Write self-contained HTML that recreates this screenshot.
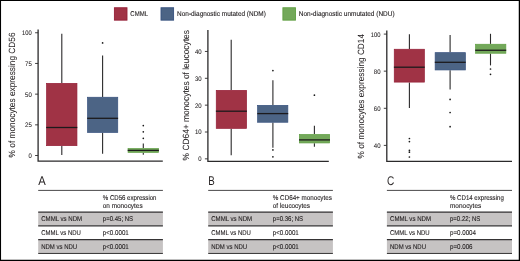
<!DOCTYPE html>
<html lang="en"><head><meta charset="utf-8"><title>Monocyte subsets in CMML, NDM and NDU</title>
<style>html,body{margin:0;padding:0;background:#fff}svg{display:block}text{font-family:"Liberation Sans",sans-serif;text-rendering:geometricPrecision;stroke:#231f20;stroke-width:0.12px}</style>
</head><body>
<svg width="520" height="261" viewBox="0 0 520 261">
<rect x="0" y="0" width="520" height="261" fill="#fff"/>
<rect x="114.4" y="7.75" width="12.6" height="12.4" fill="#a03345" stroke="#951f37" stroke-width="0.9"/>
<text x="130.3" y="16.1" font-size="7.0" textLength="17.7" lengthAdjust="spacingAndGlyphs" fill="#231f20">CMML</text>
<rect x="161.0" y="7.75" width="12.6" height="12.4" fill="#4c6485" stroke="#36507e" stroke-width="0.9"/>
<text x="177.1" y="16.1" font-size="7.0" textLength="88.7" lengthAdjust="spacingAndGlyphs" fill="#231f20">Non-diagnostic mutated (NDM)</text>
<rect x="282.9" y="7.75" width="12.6" height="12.4" fill="#73a85a" stroke="#5f9f42" stroke-width="0.9"/>
<text x="298.8" y="16.1" font-size="7.0" textLength="95.8" lengthAdjust="spacingAndGlyphs" fill="#231f20">Non-diagnostic unmutated (NDU)</text>
<path d="M38.1 29.6V161.2H162.8" fill="none" stroke="#2b2a2b" stroke-width="1.3"/>
<line x1="35.1" y1="32.75" x2="38.1" y2="32.75" stroke="#2b2a2b" stroke-width="0.9"/>
<text x="31.8" y="35.15" font-size="6.6" textLength="9.7" lengthAdjust="spacingAndGlyphs" text-anchor="end" fill="#231f20" style="stroke-width:0.08px">100</text>
<line x1="35.1" y1="63.45" x2="38.1" y2="63.45" stroke="#2b2a2b" stroke-width="0.9"/>
<text x="31.8" y="65.85" font-size="6.6" textLength="6.7" lengthAdjust="spacingAndGlyphs" text-anchor="end" fill="#231f20" style="stroke-width:0.08px">75</text>
<line x1="35.1" y1="94.15" x2="38.1" y2="94.15" stroke="#2b2a2b" stroke-width="0.9"/>
<text x="31.8" y="96.55" font-size="6.6" textLength="6.7" lengthAdjust="spacingAndGlyphs" text-anchor="end" fill="#231f20" style="stroke-width:0.08px">50</text>
<line x1="35.1" y1="124.85" x2="38.1" y2="124.85" stroke="#2b2a2b" stroke-width="0.9"/>
<text x="31.8" y="127.25" font-size="6.6" textLength="6.7" lengthAdjust="spacingAndGlyphs" text-anchor="end" fill="#231f20" style="stroke-width:0.08px">25</text>
<line x1="35.1" y1="155.5" x2="38.1" y2="155.5" stroke="#2b2a2b" stroke-width="0.9"/>
<text x="31.8" y="157.9" font-size="6.6" textLength="3.3" lengthAdjust="spacingAndGlyphs" text-anchor="end" fill="#231f20" style="stroke-width:0.08px">0</text>
<line x1="61.8" y1="33.8" x2="61.8" y2="83.0" stroke="#2b2a2b" stroke-width="1.1"/>
<line x1="61.8" y1="146.0" x2="61.8" y2="155.0" stroke="#2b2a2b" stroke-width="1.1"/>
<rect x="46.55" y="83.35" width="30.4" height="62.3" fill="#a03345" stroke="#951f37" stroke-width="0.7"/>
<line x1="46.2" y1="127.5" x2="77.3" y2="127.5" stroke="#1c1a1c" stroke-width="1.3"/>
<line x1="102.6" y1="55.6" x2="102.6" y2="96.9" stroke="#2b2a2b" stroke-width="1.1"/>
<line x1="102.6" y1="132.8" x2="102.6" y2="153.8" stroke="#2b2a2b" stroke-width="1.1"/>
<rect x="87.55" y="97.25" width="30.2" height="35.2" fill="#4c6485" stroke="#36507e" stroke-width="0.7"/>
<line x1="87.2" y1="118.3" x2="118.1" y2="118.3" stroke="#1c1a1c" stroke-width="1.3"/>
<circle cx="102.6" cy="42.9" r="0.85" fill="#1a1a1a"/>
<line x1="143.3" y1="143.4" x2="143.3" y2="148.2" stroke="#2b2a2b" stroke-width="1.1"/>
<line x1="143.3" y1="152.7" x2="143.3" y2="154.8" stroke="#2b2a2b" stroke-width="1.1"/>
<rect x="128.05" y="148.55" width="30.5" height="3.8" fill="#73a85a" stroke="#5f9f42" stroke-width="0.7"/>
<line x1="127.7" y1="150.4" x2="158.9" y2="150.4" stroke="#1c1a1c" stroke-width="1.3"/>
<circle cx="143.3" cy="125.6" r="0.85" fill="#1a1a1a"/>
<circle cx="143.3" cy="131.8" r="0.85" fill="#1a1a1a"/>
<circle cx="143.3" cy="138.3" r="0.85" fill="#1a1a1a"/>
<text x="15.5" y="157.4" font-size="9.0" textLength="124.9" lengthAdjust="spacingAndGlyphs" transform="rotate(-90 15.5 157.4)" fill="#231f20" style="stroke-width:0.06px">% of monocytes expressing CD56</text>
<path d="M207.9 30.0V161.3H328.8" fill="none" stroke="#2b2a2b" stroke-width="1.3"/>
<line x1="204.9" y1="51.45" x2="207.9" y2="51.45" stroke="#2b2a2b" stroke-width="0.9"/>
<text x="201.6" y="53.85" font-size="6.6" textLength="6.7" lengthAdjust="spacingAndGlyphs" text-anchor="end" fill="#231f20" style="stroke-width:0.08px">40</text>
<line x1="204.9" y1="78.3" x2="207.9" y2="78.3" stroke="#2b2a2b" stroke-width="0.9"/>
<text x="201.6" y="80.7" font-size="6.6" textLength="6.7" lengthAdjust="spacingAndGlyphs" text-anchor="end" fill="#231f20" style="stroke-width:0.08px">30</text>
<line x1="204.9" y1="105.15" x2="207.9" y2="105.15" stroke="#2b2a2b" stroke-width="0.9"/>
<text x="201.6" y="107.55" font-size="6.6" textLength="6.7" lengthAdjust="spacingAndGlyphs" text-anchor="end" fill="#231f20" style="stroke-width:0.08px">20</text>
<line x1="204.9" y1="132.0" x2="207.9" y2="132.0" stroke="#2b2a2b" stroke-width="0.9"/>
<text x="201.6" y="134.4" font-size="6.6" textLength="6.7" lengthAdjust="spacingAndGlyphs" text-anchor="end" fill="#231f20" style="stroke-width:0.08px">10</text>
<line x1="204.9" y1="158.85" x2="207.9" y2="158.85" stroke="#2b2a2b" stroke-width="0.9"/>
<text x="201.6" y="161.25" font-size="6.6" textLength="3.3" lengthAdjust="spacingAndGlyphs" text-anchor="end" fill="#231f20" style="stroke-width:0.08px">0</text>
<line x1="231.2" y1="39.7" x2="231.2" y2="90.0" stroke="#2b2a2b" stroke-width="1.1"/>
<line x1="231.2" y1="128.7" x2="231.2" y2="155.2" stroke="#2b2a2b" stroke-width="1.1"/>
<rect x="216.25" y="90.35" width="30.3" height="38.0" fill="#a03345" stroke="#951f37" stroke-width="0.7"/>
<line x1="215.9" y1="111.2" x2="246.9" y2="111.2" stroke="#1c1a1c" stroke-width="1.3"/>
<line x1="272.9" y1="80.2" x2="272.9" y2="105.0" stroke="#2b2a2b" stroke-width="1.1"/>
<line x1="272.9" y1="122.6" x2="272.9" y2="147.7" stroke="#2b2a2b" stroke-width="1.1"/>
<rect x="257.65" y="105.35" width="30.2" height="16.9" fill="#4c6485" stroke="#36507e" stroke-width="0.7"/>
<line x1="257.3" y1="113.6" x2="288.2" y2="113.6" stroke="#1c1a1c" stroke-width="1.3"/>
<circle cx="272.9" cy="70.6" r="0.85" fill="#1a1a1a"/>
<circle cx="272.9" cy="149.9" r="0.85" fill="#1a1a1a"/>
<circle cx="272.9" cy="156.8" r="0.85" fill="#1a1a1a"/>
<line x1="314.4" y1="125.7" x2="314.4" y2="134.1" stroke="#2b2a2b" stroke-width="1.1"/>
<line x1="314.4" y1="143.3" x2="314.4" y2="146.8" stroke="#2b2a2b" stroke-width="1.1"/>
<rect x="299.35" y="134.45" width="30.3" height="8.5" fill="#73a85a" stroke="#5f9f42" stroke-width="0.7"/>
<line x1="299.0" y1="139.9" x2="330.0" y2="139.9" stroke="#1c1a1c" stroke-width="1.3"/>
<circle cx="314.4" cy="95.2" r="0.85" fill="#1a1a1a"/>
<text x="188.7" y="160.4" font-size="9.0" textLength="130.3" lengthAdjust="spacingAndGlyphs" transform="rotate(-90 188.7 160.4)" fill="#231f20" style="stroke-width:0.06px">% CD64+ monocytes of leucocytes</text>
<path d="M386.8 30.5V161.3H512.0" fill="none" stroke="#2b2a2b" stroke-width="1.3"/>
<line x1="383.8" y1="34.1" x2="386.8" y2="34.1" stroke="#2b2a2b" stroke-width="0.9"/>
<text x="380.5" y="36.5" font-size="6.6" textLength="9.7" lengthAdjust="spacingAndGlyphs" text-anchor="end" fill="#231f20" style="stroke-width:0.08px">100</text>
<line x1="383.8" y1="71.15" x2="386.8" y2="71.15" stroke="#2b2a2b" stroke-width="0.9"/>
<text x="380.5" y="73.55" font-size="6.6" textLength="6.7" lengthAdjust="spacingAndGlyphs" text-anchor="end" fill="#231f20" style="stroke-width:0.08px">80</text>
<line x1="383.8" y1="108.3" x2="386.8" y2="108.3" stroke="#2b2a2b" stroke-width="0.9"/>
<text x="380.5" y="110.7" font-size="6.6" textLength="6.7" lengthAdjust="spacingAndGlyphs" text-anchor="end" fill="#231f20" style="stroke-width:0.08px">60</text>
<line x1="383.8" y1="145.4" x2="386.8" y2="145.4" stroke="#2b2a2b" stroke-width="0.9"/>
<text x="380.5" y="147.8" font-size="6.6" textLength="6.7" lengthAdjust="spacingAndGlyphs" text-anchor="end" fill="#231f20" style="stroke-width:0.08px">40</text>
<line x1="409.4" y1="34.3" x2="409.4" y2="48.9" stroke="#2b2a2b" stroke-width="1.1"/>
<line x1="409.4" y1="82.45" x2="409.4" y2="108.05" stroke="#2b2a2b" stroke-width="1.1"/>
<rect x="394.25" y="49.25" width="30.1" height="32.85" fill="#a03345" stroke="#951f37" stroke-width="0.7"/>
<line x1="393.9" y1="67.2" x2="424.7" y2="67.2" stroke="#1c1a1c" stroke-width="1.3"/>
<circle cx="409.4" cy="138.5" r="0.85" fill="#1a1a1a"/>
<circle cx="409.4" cy="141.6" r="0.85" fill="#1a1a1a"/>
<circle cx="409.4" cy="150.4" r="0.85" fill="#1a1a1a"/>
<circle cx="409.4" cy="152.2" r="0.85" fill="#1a1a1a"/>
<circle cx="409.4" cy="157.0" r="0.85" fill="#1a1a1a"/>
<line x1="450.1" y1="35.0" x2="450.1" y2="52.3" stroke="#2b2a2b" stroke-width="1.1"/>
<line x1="450.1" y1="70.3" x2="450.1" y2="89.6" stroke="#2b2a2b" stroke-width="1.1"/>
<rect x="435.15" y="52.65" width="30.2" height="17.3" fill="#4c6485" stroke="#36507e" stroke-width="0.7"/>
<line x1="434.8" y1="62.3" x2="465.7" y2="62.3" stroke="#1c1a1c" stroke-width="1.3"/>
<circle cx="450.1" cy="99.4" r="0.85" fill="#1a1a1a"/>
<circle cx="450.1" cy="112.5" r="0.85" fill="#1a1a1a"/>
<circle cx="450.1" cy="126.7" r="0.85" fill="#1a1a1a"/>
<line x1="490.5" y1="33.8" x2="490.5" y2="43.9" stroke="#2b2a2b" stroke-width="1.1"/>
<line x1="490.5" y1="53.6" x2="490.5" y2="65.4" stroke="#2b2a2b" stroke-width="1.1"/>
<rect x="475.55" y="44.25" width="30.3" height="9.0" fill="#73a85a" stroke="#5f9f42" stroke-width="0.7"/>
<line x1="475.2" y1="50.25" x2="506.2" y2="50.25" stroke="#1c1a1c" stroke-width="1.3"/>
<circle cx="490.5" cy="69.0" r="0.85" fill="#1a1a1a"/>
<circle cx="490.5" cy="74.3" r="0.85" fill="#1a1a1a"/>
<text x="363.6" y="158.4" font-size="9.0" textLength="124.4" lengthAdjust="spacingAndGlyphs" transform="rotate(-90 363.6 158.4)" fill="#231f20" style="stroke-width:0.06px">% of monocytes expressing CD14</text>
<text x="38.300000000000004" y="184.9" font-size="12.6" textLength="7.5" lengthAdjust="spacingAndGlyphs" fill="#231f20" style="stroke-width:0">A</text>
<rect x="38.2" y="211.9" width="124.7" height="13.8" fill="#c6c3c3"/>
<rect x="38.2" y="239.5" width="124.7" height="13.6" fill="#c6c3c3"/>
<line x1="38.2" y1="190.4" x2="162.9" y2="190.4" stroke="#353334" stroke-width="0.9"/>
<line x1="38.2" y1="212.05" x2="162.9" y2="212.05" stroke="#353334" stroke-width="1.25"/>
<line x1="38.2" y1="225.85" x2="162.9" y2="225.85" stroke="#353334" stroke-width="1.25"/>
<line x1="38.2" y1="239.65" x2="162.9" y2="239.65" stroke="#353334" stroke-width="1.25"/>
<line x1="38.2" y1="253.45" x2="162.9" y2="253.45" stroke="#353334" stroke-width="1.0"/>
<text x="102.8" y="199.6" font-size="7.0" textLength="53.7" lengthAdjust="spacingAndGlyphs" fill="#231f20">% CD56 expression</text>
<text x="102.8" y="207.9" font-size="7.0" textLength="39.8" lengthAdjust="spacingAndGlyphs" fill="#231f20">on monocytes</text>
<text x="41.2" y="221.4" font-size="7.0" textLength="41.0" lengthAdjust="spacingAndGlyphs" fill="#231f20">CMML vs NDM</text>
<text x="102.8" y="221.4" font-size="7.0" textLength="30.3" lengthAdjust="spacingAndGlyphs" fill="#231f20">p=0.45; NS</text>
<text x="41.2" y="235.2" font-size="7.0" textLength="39.7" lengthAdjust="spacingAndGlyphs" fill="#231f20">CMML vs NDU</text>
<text x="102.8" y="235.2" font-size="7.0" textLength="26.0" lengthAdjust="spacingAndGlyphs" fill="#231f20">p&lt;0.0001</text>
<text x="41.2" y="248.8" font-size="7.0" textLength="36.0" lengthAdjust="spacingAndGlyphs" fill="#231f20">NDM vs NDU</text>
<text x="102.8" y="248.8" font-size="7.0" textLength="26.0" lengthAdjust="spacingAndGlyphs" fill="#231f20">p&lt;0.0001</text>
<text x="208.29999999999998" y="184.9" font-size="12.6" textLength="6.5" lengthAdjust="spacingAndGlyphs" fill="#231f20" style="stroke-width:0">B</text>
<rect x="208.2" y="211.9" width="124.7" height="13.8" fill="#c6c3c3"/>
<rect x="208.2" y="239.5" width="124.7" height="13.6" fill="#c6c3c3"/>
<line x1="208.2" y1="190.4" x2="332.9" y2="190.4" stroke="#353334" stroke-width="0.9"/>
<line x1="208.2" y1="212.05" x2="332.9" y2="212.05" stroke="#353334" stroke-width="1.25"/>
<line x1="208.2" y1="225.85" x2="332.9" y2="225.85" stroke="#353334" stroke-width="1.25"/>
<line x1="208.2" y1="239.65" x2="332.9" y2="239.65" stroke="#353334" stroke-width="1.25"/>
<line x1="208.2" y1="253.45" x2="332.9" y2="253.45" stroke="#353334" stroke-width="1.0"/>
<text x="272.8" y="199.6" font-size="7.0" textLength="59.0" lengthAdjust="spacingAndGlyphs" fill="#231f20">% CD64+ monocytes</text>
<text x="272.8" y="207.9" font-size="7.0" textLength="37.2" lengthAdjust="spacingAndGlyphs" fill="#231f20">of leucocytes</text>
<text x="211.2" y="221.4" font-size="7.0" textLength="41.0" lengthAdjust="spacingAndGlyphs" fill="#231f20">CMML vs NDM</text>
<text x="272.8" y="221.4" font-size="7.0" textLength="30.3" lengthAdjust="spacingAndGlyphs" fill="#231f20">p=0.36; NS</text>
<text x="211.2" y="235.2" font-size="7.0" textLength="39.7" lengthAdjust="spacingAndGlyphs" fill="#231f20">CMML vs NDU</text>
<text x="272.8" y="235.2" font-size="7.0" textLength="26.0" lengthAdjust="spacingAndGlyphs" fill="#231f20">p&lt;0.0001</text>
<text x="211.2" y="248.8" font-size="7.0" textLength="36.0" lengthAdjust="spacingAndGlyphs" fill="#231f20">NDM vs NDU</text>
<text x="272.8" y="248.8" font-size="7.0" textLength="26.0" lengthAdjust="spacingAndGlyphs" fill="#231f20">p&lt;0.0001</text>
<text x="387.0" y="184.9" font-size="12.6" textLength="7.3" lengthAdjust="spacingAndGlyphs" fill="#231f20" style="stroke-width:0">C</text>
<rect x="386.9" y="211.9" width="125.1" height="13.8" fill="#c6c3c3"/>
<rect x="386.9" y="239.5" width="125.1" height="13.6" fill="#c6c3c3"/>
<line x1="386.9" y1="190.4" x2="512.0" y2="190.4" stroke="#353334" stroke-width="0.9"/>
<line x1="386.9" y1="212.05" x2="512.0" y2="212.05" stroke="#353334" stroke-width="1.25"/>
<line x1="386.9" y1="225.85" x2="512.0" y2="225.85" stroke="#353334" stroke-width="1.25"/>
<line x1="386.9" y1="239.65" x2="512.0" y2="239.65" stroke="#353334" stroke-width="1.25"/>
<line x1="386.9" y1="253.45" x2="512.0" y2="253.45" stroke="#353334" stroke-width="1.0"/>
<text x="450.0" y="199.6" font-size="7.0" textLength="53.8" lengthAdjust="spacingAndGlyphs" fill="#231f20">% CD14 expressing</text>
<text x="450.0" y="207.9" font-size="7.0" textLength="31.2" lengthAdjust="spacingAndGlyphs" fill="#231f20">monocytes</text>
<text x="390.0" y="221.4" font-size="7.0" textLength="41.0" lengthAdjust="spacingAndGlyphs" fill="#231f20">CMML vs NDM</text>
<text x="450.0" y="221.4" font-size="7.0" textLength="30.3" lengthAdjust="spacingAndGlyphs" fill="#231f20">p=0.22; NS</text>
<text x="390.0" y="235.2" font-size="7.0" textLength="39.7" lengthAdjust="spacingAndGlyphs" fill="#231f20">CMML vs NDU</text>
<text x="450.0" y="235.2" font-size="7.0" textLength="26.0" lengthAdjust="spacingAndGlyphs" fill="#231f20">p=0.0004</text>
<text x="390.0" y="248.8" font-size="7.0" textLength="36.0" lengthAdjust="spacingAndGlyphs" fill="#231f20">NDM vs NDU</text>
<text x="450.0" y="248.8" font-size="7.0" textLength="22.5" lengthAdjust="spacingAndGlyphs" fill="#231f20">p=0.006</text>
<path d="M0 0H520V261H0ZM1.05 1.05V259.75H518.75V1.05Z" fill="#000" fill-rule="evenodd"/>
</svg></body></html>
